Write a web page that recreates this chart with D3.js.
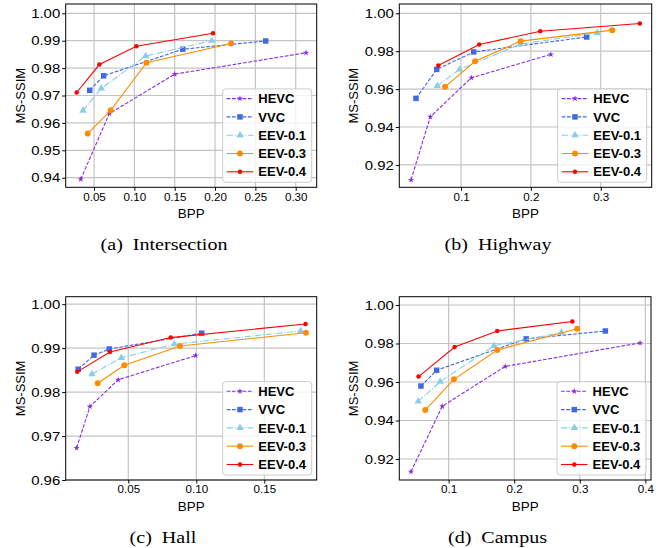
<!DOCTYPE html>
<html>
<head>
<meta charset="utf-8">
<script src="https://cdn.jsdelivr.net/npm/d3@7"></script>
<style>
  body { margin: 0; background: #fff; }
  svg { display: block; }
</style>
</head>
<body>
<div id="chart"></div>
<script>
// methods shown in every panel
const methods = ["HEVC", "VVC", "EEV-0.1", "EEV-0.3", "EEV-0.4"];

// (a) Intersection
const intersectionBpp = [
  [0.0335, 0.069, 0.150, 0.3128],
  [0.0447, 0.062, 0.160, 0.2628],
  [0.0364, 0.059, 0.114, 0.196],
  [0.0422, 0.0707, 0.115, 0.2199],
  [0.0285, 0.0566, 0.1025, 0.1975]
];
const intersectionSsim = [
  [0.9394, 0.9634, 0.9778, 0.9856],
  [0.9719, 0.9772, 0.9869, 0.9899],
  [0.9645, 0.9726, 0.9844, 0.9900],
  [0.9561, 0.9646, 0.9820, 0.9890],
  [0.9711, 0.9813, 0.9880, 0.9927]
];

// (b) Highway
const highwayBpp = [
  [0.0284, 0.056, 0.1148, 0.2286],
  [0.0355, 0.0652, 0.1182, 0.280],
  [0.066, 0.098, 0.1847, 0.295],
  [0.0771, 0.1201, 0.1854, 0.3166],
  [0.0675, 0.126, 0.2134, 0.356]
];
const highwaySsim = [
  [0.9121, 0.9454, 0.9660, 0.9783],
  [0.9551, 0.9704, 0.9796, 0.9875],
  [0.9617, 0.9704, 0.9837, 0.9897],
  [0.9612, 0.9747, 0.9853, 0.9911],
  [0.9725, 0.9835, 0.9905, 0.9946]
];

// (c) Hall
const hallBpp = [
  [0.012, 0.0218, 0.0426, 0.0995],
  [0.0132, 0.0248, 0.036, 0.104],
  [0.0233, 0.0449, 0.0838, 0.1768],
  [0.0275, 0.0471, 0.088, 0.1806],
  [0.0125, 0.0365, 0.0812, 0.1803]
];
const hallSsim = [
  [0.9673, 0.9767, 0.9828, 0.9883],
  [0.9852, 0.9884, 0.9898, 0.9934],
  [0.9841, 0.9878, 0.9909, 0.9939],
  [0.9820, 0.9861, 0.9905, 0.9935],
  [0.9846, 0.9891, 0.9924, 0.9955]
];

// (d) Campus
const campusBpp = [
  [0.0426, 0.0903, 0.1863, 0.3919],
  [0.0578, 0.0817, 0.2183, 0.339],
  [0.0537, 0.0873, 0.169, 0.272],
  [0.0644, 0.1081, 0.1741, 0.296],
  [0.0542, 0.1092, 0.1741, 0.2887]
];
const campusSsim = [
  [0.9134, 0.9474, 0.9681, 0.9803],
  [0.9579, 0.9661, 0.9824, 0.9865],
  [0.9499, 0.9602, 0.9788, 0.9857],
  [0.9454, 0.9614, 0.9766, 0.9877],
  [0.9628, 0.9782, 0.9865, 0.9914]
];

// tick labels
const xTicksIntersection = [0.05, 0.10, 0.15, 0.20, 0.25, 0.30];
const yTicksIntersection = [0.94, 0.95, 0.96, 0.97, 0.98, 0.99, 1.00];
const xTicksHighway = [0.1, 0.2, 0.3];
const yTicksHighway = [0.92, 0.94, 0.96, 0.98, 1.00];
const xTicksHall = [0.05, 0.10, 0.15];
const yTicksHall = [0.96, 0.97, 0.98, 0.99, 1.00];
const xTicksCampus = [0.1, 0.2, 0.3, 0.4];
const yTicksCampus = [0.92, 0.94, 0.96, 0.98, 1.00];

var colors = ["#8A2BE2", "#4169E1", "#87CEEB", "#FF8C00", "#FF0000"];
var dashes = ["3.7,1.6", "3.7,1.6", "6.4,1.6,1,1.6", null, null];
var symbols = [d3.symbolStar, d3.symbolSquare, d3.symbolTriangle, d3.symbolCircle, d3.symbolCircle];
var symSizes = [12, 30, 24, 28, 16];

var sans = "'Liberation Sans', Arial, Helvetica, sans-serif";
var serif = "'Liberation Serif', 'Times New Roman', serif";

var panels = [
  { bpp: intersectionBpp, ssim: intersectionSsim, xt: xTicksIntersection, yt: yTicksIntersection,
    xDom: [0.0149, 0.326], yDom: [0.9365, 1.0034], xf: ".2f", yf: ".2f",
    box: [65.7, 4, 316.7, 187.3], tag: "(a)", name: "Intersection", cx: 164 },
  { bpp: highwayBpp, ssim: highwaySsim, xt: xTicksHighway, yt: yTicksHighway,
    xDom: [0.0116, 0.373], yDom: [0.9082, 1.0049], xf: ".1f", yf: ".2f",
    box: [399.3, 4, 651.7, 187.3], tag: "(b)", name: "Highway", cx: 498 },
  { bpp: hallBpp, ssim: hallSsim, xt: xTicksHall, yt: yTicksHall,
    xDom: [0.004, 0.1885], yDom: [0.96, 1.0017], xf: ".2f", yf: ".2f",
    box: [65.7, 296.7, 316.7, 480], tag: "(c)", name: "Hall", cx: 163 },
  { bpp: campusBpp, ssim: campusSsim, xt: xTicksCampus, yt: yTicksCampus,
    xDom: [0.0248, 0.4086], yDom: [0.9091, 1.0043], xf: ".1f", yf: ".2f",
    box: [399.3, 296.7, 651, 480], tag: "(d)", name: "Campus", cx: 497.5 }
];

var svg = d3.select("#chart").append("svg")
  .attr("width", 670)
  .attr("height", 548);

// the figure's text is a bit wider than normal, stretch it horizontally
function stretchTicks(g, sx) {
  g.selectAll(".tick text")
    .attr("transform", "scale(" + sx + ",1)")
    .attr("x", function () { return +this.getAttribute("x") / sx; });
}

panels.forEach(function (p) {
  var x0 = p.box[0], y0 = p.box[1], x1 = p.box[2], y1 = p.box[3];
  var x = d3.scaleLinear().domain(p.xDom).range([x0, x1]);
  var y = d3.scaleLinear().domain(p.yDom).range([y1, y0]);

  var g = svg.append("g");

  // grid
  g.append("g").selectAll("line.vg")
    .data(p.xt).enter().append("line")
    .attr("x1", function (d) { return x(d); })
    .attr("x2", function (d) { return x(d); })
    .attr("y1", y0).attr("y2", y1)
    .attr("stroke", "#c4c4c4").attr("stroke-width", 1.2);
  g.append("g").selectAll("line.hg")
    .data(p.yt).enter().append("line")
    .attr("y1", function (d) { return y(d); })
    .attr("y2", function (d) { return y(d); })
    .attr("x1", x0).attr("x2", x1)
    .attr("stroke", "#c4c4c4").attr("stroke-width", 1.2);

  // curves
  var line = d3.line()
    .x(function (d) { return x(d[0]); })
    .y(function (d) { return y(d[1]); });

  methods.forEach(function (m, i) {
    var pts = p.bpp[i].map(function (b, k) { return [b, p.ssim[i][k]]; });
    g.append("path")
      .datum(pts)
      .attr("d", line)
      .attr("fill", "none")
      .attr("stroke", colors[i])
      .attr("stroke-width", 1.1)
      .attr("stroke-dasharray", dashes[i]);
    g.selectAll(".mk" + i)
      .data(pts).enter().append("path")
      .attr("transform", function (d) { return "translate(" + x(d[0]) + "," + y(d[1]) + ")"; })
      .attr("d", d3.symbol().type(symbols[i]).size(symSizes[i]))
      .attr("fill", colors[i]);
  });

  // axes
  var yAxis = g.append("g")
    .attr("transform", "translate(" + x0 + ",0)")
    .call(d3.axisLeft(y).tickValues(p.yt).tickFormat(d3.format(p.yf)).tickSize(3.5).tickPadding(2));
  yAxis.select(".domain").remove();
  yAxis.selectAll(".tick text").attr("font-size", 13).attr("font-family", sans).attr("fill", "#000");
  stretchTicks(yAxis, 1.15);

  var xAxis = g.append("g")
    .attr("transform", "translate(0," + y1 + ")")
    .call(d3.axisBottom(x).tickValues(p.xt).tickFormat(d3.format(p.xf)).tickSize(3.5).tickPadding(2.6));
  xAxis.select(".domain").remove();
  xAxis.selectAll(".tick text").attr("font-size", 10.2).attr("font-family", sans).attr("fill", "#000");
  stretchTicks(xAxis, 1.14);

  g.append("rect")
    .attr("x", x0).attr("y", y0)
    .attr("width", x1 - x0).attr("height", y1 - y0)
    .attr("fill", "none").attr("stroke", "#000").attr("stroke-width", 1);

  // axis labels
  g.append("text")
    .attr("transform", "translate(" + (x0 - 41) + "," + ((y0 + y1) / 2) + ") rotate(-90)")
    .attr("text-anchor", "middle")
    .attr("font-family", sans)
    .attr("font-size", 13)
    .text("MS-SSIM");

  g.append("text")
    .attr("transform", "translate(" + ((x0 + x1) / 2) + "," + (y1 + 31) + ") scale(1.12,1)")
    .attr("text-anchor", "middle")
    .attr("font-family", sans)
    .attr("font-size", 12)
    .text("BPP");

  // caption
  g.append("text")
    .attr("transform", "translate(" + p.cx + "," + (y1 + 62.5) + ") scale(1.18,1)")
    .attr("text-anchor", "middle")
    .attr("font-family", serif)
    .attr("font-size", 17)
    .text(p.tag + "\u2002" + p.name);

  // legend, lower right
  var lw = 89, lh = 93.4, rowH = 18.3;
  var lg = g.append("g")
    .attr("transform", "translate(" + (x1 - 5 - lw) + "," + (y1 - 5 - lh) + ")");
  lg.append("rect")
    .attr("width", lw).attr("height", lh).attr("rx", 3)
    .attr("fill", "#fff").attr("fill-opacity", 0.8)
    .attr("stroke", "#cccccc").attr("stroke-width", 1);

  var row = lg.selectAll(".row")
    .data(methods).enter().append("g")
    .attr("transform", function (d, i) { return "translate(0," + (9.7 + i * rowH) + ")"; });
  row.append("line")
    .attr("x1", 4).attr("x2", 30.6)
    .attr("stroke", function (d, i) { return colors[i]; })
    .attr("stroke-width", 1.1)
    .attr("stroke-dasharray", function (d, i) { return dashes[i]; });
  row.append("path")
    .attr("transform", "translate(17.3,0)")
    .attr("d", function (d, i) { return d3.symbol().type(symbols[i]).size(symSizes[i])(); })
    .attr("fill", function (d, i) { return colors[i]; });
  row.append("text")
    .attr("x", 35.6)
    .attr("y", 4.6)
    .attr("font-family", sans)
    .attr("font-weight", "bold")
    .attr("font-size", 13)
    .text(function (d) { return d; });
});
</script>
</body>
</html>
